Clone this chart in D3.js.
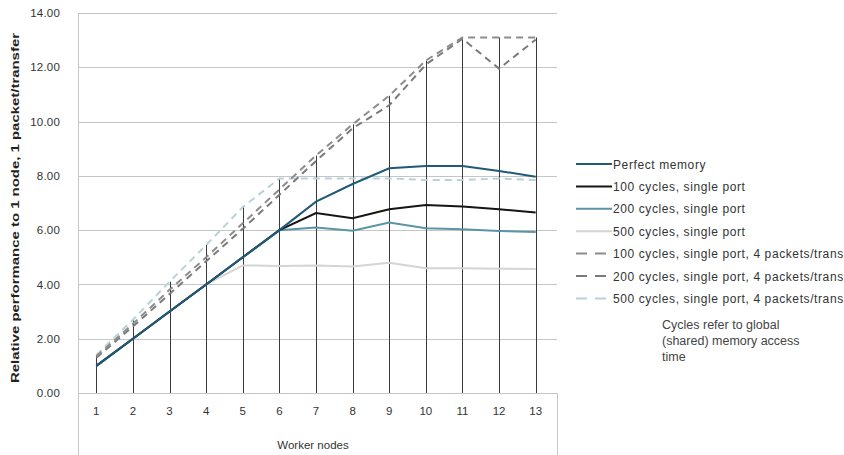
<!DOCTYPE html>
<html lang="en">
<head>
  <meta charset="UTF-8">
  <title>Relative performance</title>
  <style>
    body { margin: 0; background: #fff; }
    text { font-family: "Liberation Sans", Arial, sans-serif; }
  </style>
</head>
<body>
  <svg id="svg" width="844" height="455"></svg>
  <script src="https://d3js.org/d3.v7.min.js"></script>
  <script>
    // data
    const nodes = [1, 2, 3, 4, 5, 6, 7, 8, 9, 10, 11, 12, 13]
    const perfectMemory = [1.0, 2.0, 3.0, 4.0, 5.0, 6.0, 7.05, 7.7, 8.28, 8.36, 8.36, 8.18, 7.97]
    const cycles100 = [1.0, 2.0, 3.0, 4.0, 5.0, 6.0, 6.63, 6.44, 6.77, 6.93, 6.87, 6.77, 6.65]
    const cycles200 = [1.0, 2.0, 3.0, 4.0, 5.0, 6.0, 6.1, 5.98, 6.28, 6.07, 6.03, 5.97, 5.93]
    const cycles500 = [1.0, 2.0, 3.0, 4.0, 4.7, 4.68, 4.7, 4.66, 4.8, 4.6, 4.6, 4.58, 4.57]
    const cycles100x4 = [1.35, 2.55, 3.8, 5.0, 6.25, 7.5, 8.75, 9.9, 10.95, 12.25, 13.1, 13.1, 13.1]
    const cycles200x4 = [1.3, 2.45, 3.65, 4.85, 6.05, 7.3, 8.55, 9.75, 10.6, 12.1, 13.05, 11.95, 13.02]
    const cycles500x4 = [1.4, 2.7, 4.1, 5.45, 6.85, 7.9, 7.9, 7.9, 7.9, 7.85, 7.85, 7.9, 7.85]
    const yTicks = [0, 2, 4, 6, 8, 10, 12, 14]

    const series = [
      { name: 'Perfect memory', values: perfectMemory, color: '#1f5a78', dash: null },
      { name: '100 cycles, single port', values: cycles100, color: '#151515', dash: null },
      { name: '200 cycles, single port', values: cycles200, color: '#5a95a6', dash: null },
      { name: '500 cycles, single port', values: cycles500, color: '#d4d4d4', dash: null },
      { name: '100 cycles, single port, 4 packets/trans', values: cycles100x4, color: '#8c8c8c', dash: '7,5' },
      { name: '200 cycles, single port, 4 packets/trans', values: cycles200x4, color: '#7a7a7a', dash: '7,5' },
      { name: '500 cycles, single port, 4 packets/trans', values: cycles500x4, color: '#b9d2da', dash: '7,5' }
    ]

    const plotLeft = 78, plotRight = 554, plotTop = 13, plotBottom = 393

    const svg = d3.select('#svg')

    const xscale = d3.scaleBand()
      .domain(nodes)
      .range([plotLeft, plotRight])
      .padding(0)
    const xc = d => xscale(d) + xscale.bandwidth() / 2

    const yscale = d3.scaleLinear()
      .domain([0, 14])
      .range([plotBottom, plotTop])

    // horizontal gridlines
    svg.append('g')
      .selectAll('line')
      .data(yTicks)
      .enter()
      .append('line')
      .attr('x1', plotLeft)
      .attr('x2', plotRight + 3)
      .attr('y1', d => Math.round(yscale(d)) + 0.5)
      .attr('y2', d => Math.round(yscale(d)) + 0.5)
      .attr('stroke', '#c6c6c6')
      .attr('stroke-width', 1)

    // box below the axis for the category labels
    svg.append('path')
      .attr('d', `M${plotLeft + 0.5},${plotTop} V455 M${plotLeft},${plotBottom + 0.5} H${plotRight + 3.5} V455`)
      .attr('fill', 'none')
      .attr('stroke', '#c6c6c6')

    // drop lines, from 0 to the highest point at each node
    svg.append('g')
      .selectAll('line')
      .data(nodes)
      .enter()
      .append('line')
      .attr('x1', d => Math.round(xc(d)) + 0.5)
      .attr('x2', d => Math.round(xc(d)) + 0.5)
      .attr('y1', yscale(0))
      .attr('y2', (d, i) => yscale(d3.max(series, s => s.values[i])))
      .attr('stroke', '#3a3a3a')
      .attr('stroke-width', 1)

    const line = d3.line()
      .x((v, i) => xc(nodes[i]))
      .y(v => yscale(v))

    // draw from the back so the solid lines sit on top
    svg.append('g')
      .selectAll('path')
      .data(series.slice().reverse())
      .enter()
      .append('path')
      .attr('d', d => line(d.values))
      .attr('fill', 'none')
      .attr('stroke', d => d.color)
      .attr('stroke-width', 2)
      .attr('stroke-dasharray', d => d.dash)

    // y axis labels
    const leftAxis = d3.axisLeft(yscale)
      .tickValues(yTicks)
      .tickFormat(d3.format('.2f'))
      .tickSize(0)
      .tickPadding(0)
    const ya = svg.append('g')
      .attr('transform', `translate(60, 0)`)
      .call(leftAxis)
    ya.select('.domain').remove()
    ya.selectAll('text')
      .attr('font-size', 11.5)
      .attr('letter-spacing', 0.2)
      .attr('fill', '#333')
      .style('font-family', '"Liberation Sans", Arial, sans-serif')

    // x axis labels
    const bottomAxis = d3.axisBottom(xscale).tickSize(0).tickPadding(0)
    const xa = svg.append('g')
      .attr('transform', `translate(0, 407)`)
      .call(bottomAxis)
    xa.select('.domain').remove()
    xa.selectAll('text')
      .attr('font-size', 11.5)
      .attr('fill', '#333')
      .style('font-family', '"Liberation Sans", Arial, sans-serif')

    svg.append('text')
      .attr('x', (plotLeft + plotRight) / 2 - 3)
      .attr('y', 449)
      .attr('text-anchor', 'middle')
      .attr('font-size', 11.5)
      .attr('fill', '#333')
      .text('Worker nodes')

    svg.append('text')
      .attr('transform', 'translate(19, 208) rotate(-90)')
      .attr('text-anchor', 'middle')
      .attr('font-size', 10)
      .attr('font-weight', 'bold')
      .attr('fill', '#222')
      .attr('textLength', 350)
      .attr('lengthAdjust', 'spacingAndGlyphs')
      .text('Relative performance to 1 node, 1 packet/transfer')

    // legend
    const legend = svg.append('g')
      .selectAll('g')
      .data(series)
      .enter()
      .append('g')
      .attr('transform', (d, i) => `translate(576, ${164 + i * 22.4})`)

    legend.append('line')
      .attr('x1', 0)
      .attr('x2', 36)
      .attr('stroke', d => d.color)
      .attr('stroke-width', 2)
      .attr('stroke-dasharray', d => d.dash ? '11,8' : null)
    legend.append('text')
      .attr('x', 37)
      .attr('y', 4.5)
      .attr('font-size', 12)
      .attr('letter-spacing', 0.6)
      .attr('fill', '#333')
      .text(d => d.name)

    const note = ['Cycles refer to global', '(shared) memory access', 'time']
    svg.append('text')
      .attr('font-size', 12.5)
      .attr('fill', '#444')
      .selectAll('tspan')
      .data(note)
      .enter()
      .append('tspan')
      .attr('x', 662)
      .attr('y', (d, i) => 329 + i * 16)
      .text(d => d)
  </script>
</body>
</html>
